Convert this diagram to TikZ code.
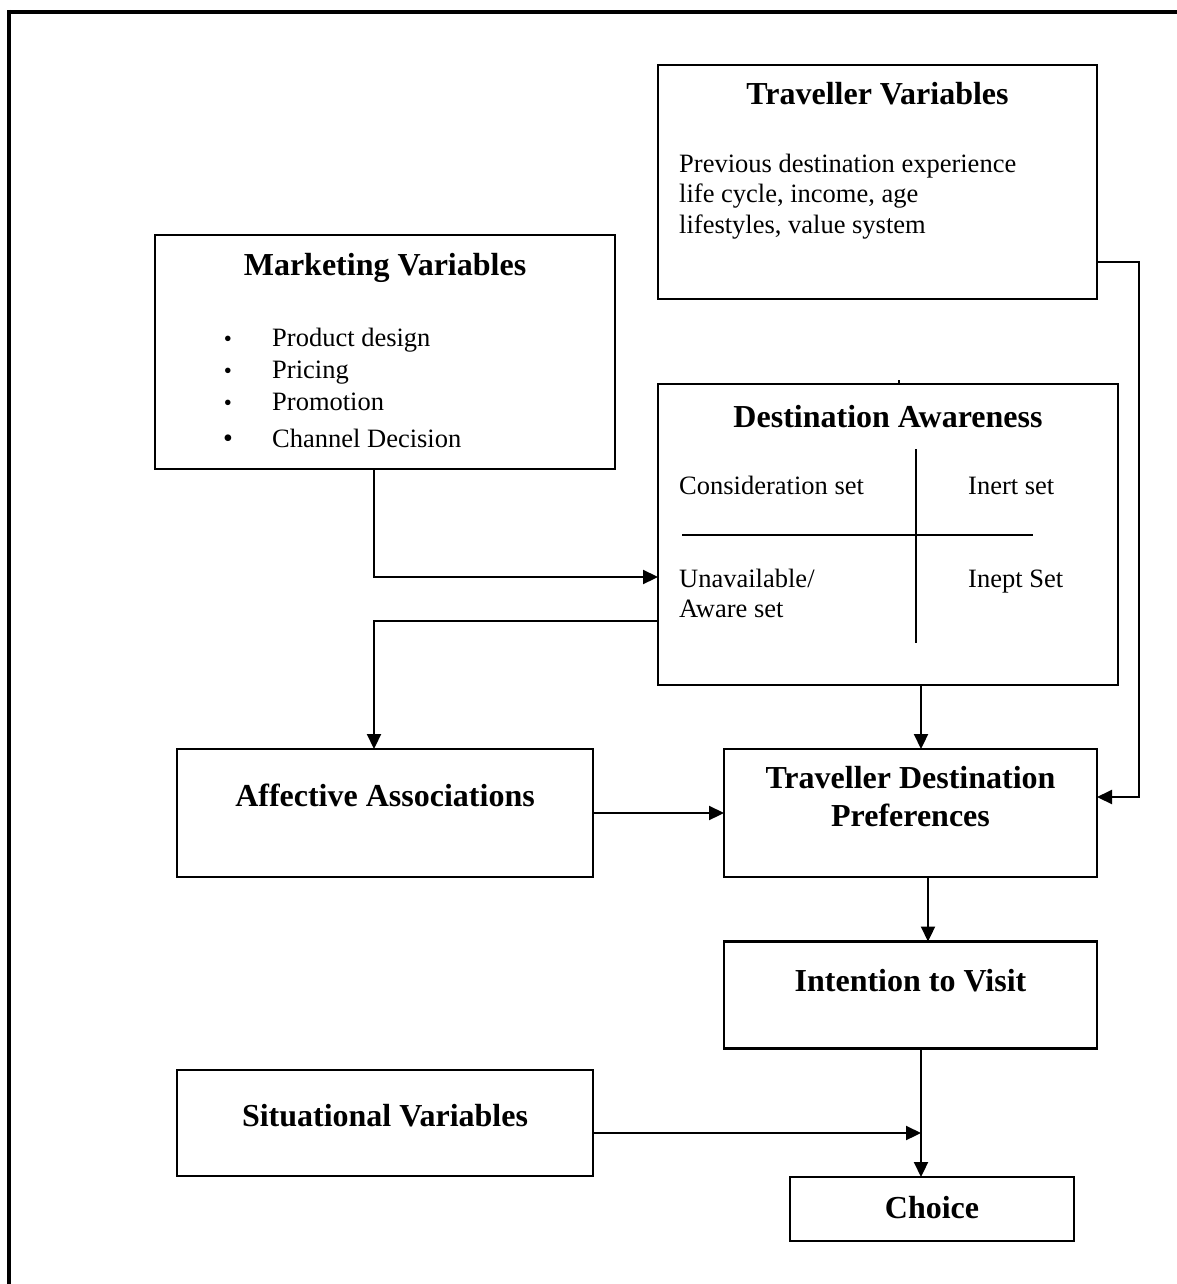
\documentclass[tikz,border=0pt]{standalone}
\usepackage{fontspec}
\setmainfont{Liberation Serif}
\usetikzlibrary{arrows.meta}
\begin{document}
\begin{tikzpicture}[x=1pt,y=-1pt,
  box/.style={draw, line width=2.2pt, rectangle, inner sep=0pt, outer sep=0pt},
  ttl/.style={font=\fontsize{32}{38}\selectfont\bfseries, inner sep=0pt, anchor=base},
  txt/.style={font=\fontsize{26.5}{30}\selectfont, inner sep=0pt, anchor=base west},
  bul/.style={font=\fontsize{26.5}{30}\selectfont, inner sep=0pt, anchor=base},
  arr/.style={line width=2.2pt, -{Triangle[length=15pt,width=14pt]}},
  ln/.style={line width=2.2pt},
  frame/.style={line width=4pt}]
\useasboundingbox (0,0) rectangle (1177,1284);
% outer frame (top and left only)
\draw[frame] (7,12) -- (1177,12);
\draw[frame] (9,10) -- (9,1284);

% boxes
\node[box, minimum width=439pt, minimum height=234pt] (trav) at (877.5,182) {};
\node[box, minimum width=460pt, minimum height=234pt] (mkt) at (385,352) {};
\node[box, minimum width=460pt, minimum height=301pt] (aware) at (888,534.5) {};
\node[box, minimum width=416pt, minimum height=128pt] (aff) at (385,813) {};
\node[box, minimum width=373pt, minimum height=128pt] (pref) at (910.5,813) {};
\node[box, minimum width=373pt, minimum height=107pt] (intent) at (910.5,995) {};
\node[box, minimum width=416pt, minimum height=106pt] (sit) at (385,1123) {};
\node[box, minimum width=284pt, minimum height=64pt] (choice) at (932,1209) {};

% Traveller Variables
\node[ttl] (travT) at (877.5,105) {Traveller Variables};
\node[txt] (trav1) at (679,173) {Previous destination experience};
\node[txt] (trav2) at (679,203) {life cycle, income, age};
\node[txt] (trav3) at (679,233) {lifestyles, value system};

% Marketing Variables
\node[ttl] (mktT) at (385,275) {Marketing Variables};
\node[bul] (b1) at (228,346) {\fontsize{23}{26}\selectfont •};
\node[bul] (b2) at (228,378) {\fontsize{23}{26}\selectfont •};
\node[bul] (b3) at (228,410) {\fontsize{23}{26}\selectfont •};
\node[bul] (b4) at (228,447) {\fontsize{28}{30}\selectfont •};
\node[txt] (m1) at (272,346) {Product design};
\node[txt] (m2) at (272,378) {Pricing};
\node[txt] (m3) at (272,410) {Promotion};
\node[txt] (m4) at (272,447) {Channel Decision};

% Destination Awareness
\node[ttl] (awareT) at (888,427) {Destination Awareness};
\node[txt] (a1) at (679,494) {Consideration set};
\node[txt] (a2) at (968,494) {Inert set};
\node[txt] (a3) at (679,587) {Unavailable/};
\node[txt] (a4) at (679,617) {Aware set};
\node[txt] (a5) at (968,587) {Inept Set};
\draw[ln] (916,449) -- (916,643);
\draw[ln] (682,535) -- (1033,535);
\draw[line width=1.5pt] (899,380) -- (899,385);

% other titles
\node[ttl] (affT) at (385,806) {Affective Associations};
\node[ttl] (prefT1) at (910.5,788) {Traveller Destination};
\node[ttl] (prefT2) at (910.5,826) {Preferences};
\node[ttl] (intentT) at (910.5,991) {Intention to Visit};
\node[ttl] (sitT) at (385,1126) {Situational Variables};
\node[ttl] (choiceT) at (932,1218) {Choice};

% connector bend points
\coordinate (c1) at (374,577);
\coordinate (c2) at (374,621);
\coordinate (c3) at (921,0);
\coordinate (c4) at (1139,262);
\coordinate (c5) at (1139,797);
\coordinate (c6) at (928,0);
\coordinate (c7) at (921,1133);

% connectors
\draw[arr] (c1 |- mkt.south) -- (c1) -- (c1 -| aware.west);
\draw[arr] (c2 -| aware.west) -- (c2) -- (c2 |- aff.north);
\draw[arr] (c3 |- aware.south) -- (c3 |- pref.north);
\draw[arr] (trav.east |- c4) -- (c4) -- (c5) -- (c5 -| pref.east);
\draw[arr] (aff.east) -- (pref.west);
\draw[arr] (c6 |- pref.south) -- (c6 |- intent.north);
\draw[arr] (c7 |- intent.south) -- (c7 |- choice.north);
\draw[arr] (sit.east |- c7) -- (c7);
\end{tikzpicture}
\end{document}
